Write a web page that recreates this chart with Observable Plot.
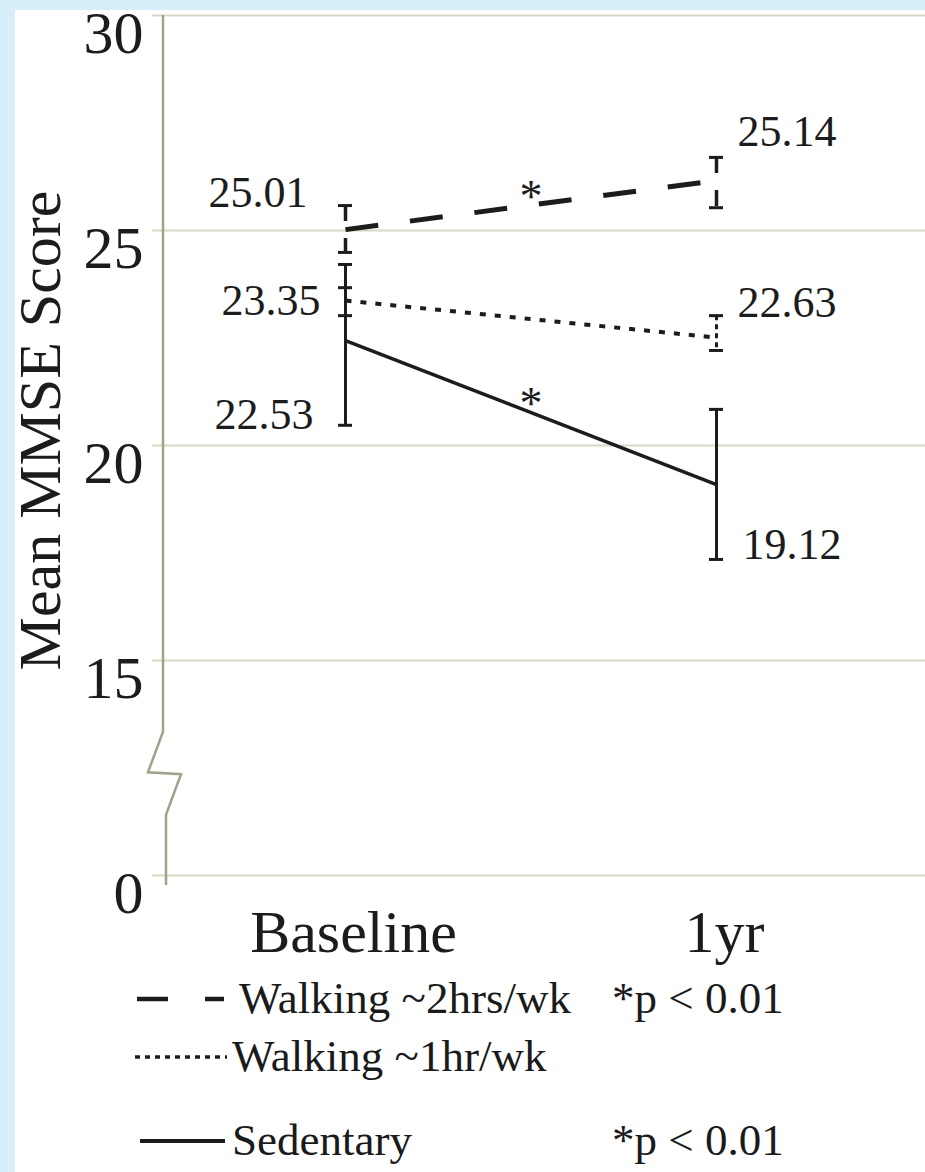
<!DOCTYPE html>
<html><head><meta charset="utf-8">
<script src="https://cdn.jsdelivr.net/npm/d3@7"></script>
<script src="https://cdn.jsdelivr.net/npm/@observablehq/plot@0.6"></script>
<style>
html,body{margin:0;padding:0;}
body{background:#d6effb;width:925px;height:1172px;overflow:hidden;position:relative;}
#panel{position:absolute;left:15px;top:10px;width:910px;height:1162px;background:#fff;font-family:"Liberation Serif",serif;color:#1a1a1a;overflow:hidden;}
#chart{position:absolute;left:0;top:0;z-index:2;}
.row{position:absolute;left:0;height:50px;line-height:50px;font-size:45px;white-space:nowrap;}
.row svg{position:absolute;top:0;}
.row .lab{position:absolute;top:0;}
.row .sig{position:absolute;top:0;left:597px;}
</style></head><body><div id="panel"><div id="legend"></div></div><div id="chart"></div>
<script>
// ---- data ----
const timepoints = ["Baseline", "1yr"];
const groups = ["Walking ~2hrs/wk", "Walking ~1hr/wk", "Sedentary"];
const significance = ["*p < 0.01", "", "*p < 0.01"];
const walk2Mean = [25.02, 26.16];
const walk2Low = [24.49, 25.53];
const walk2High = [25.58, 26.70];
const walk2Labels = ["25.01", "25.14"];
const walk1Mean = [23.37, 22.51];
const walk1Low = [23.02, 22.21];
const walk1High = [23.67, 23.02];
const walk1Labels = ["23.35", "22.63"];
const sedMean = [22.44, 19.09];
const sedLow = [20.47, 17.35];
const sedHigh = [24.21, 20.84];
const sedLabels = ["22.53", "19.12"];
const yTicks = [0, 15, 20, 25, 30];
const yTitle = "Mean MMSE Score";

// ---- styling / layout ----
const ink = "#1c1c1c";
const gridColor = "#dad8c5";
const axisColor = "#a3a18b";
const lineStyle = [
  {dash: "33,32", width: 5, errDash: "16,17", errWidth: 3.5, legendDash: "31,37,19,999", legendWidth: 4.5, lx1: 2, lx2: 90},
  {dash: "6,9", width: 4, errDash: "5,4", errWidth: 3, legendDash: "5,5", legendWidth: 3.5, lx1: 0, lx2: 92},
  {dash: null, width: 3.5, errDash: null, errWidth: 3, legendDash: null, legendWidth: 4, lx1: 5, lx2: 90}
];
const labelPlacement = [
  [{at: "high", dx: -38, dy: -13}, {at: "high", dx: 21, dy: -25}],
  [{at: "mean", dx: -25, dy: 0}, {at: "high", dx: 21, dy: -13}],
  [{at: "low", dx: -32, dy: -10}, {at: "low", dx: 26, dy: -15}]
];
const legendRows = [{top: 963, textX: 224}, {top: 1021, textX: 217}, {top: 1105, textX: 217}];

const series = [
  {group: groups[0], mean: walk2Mean, low: walk2Low, high: walk2High, labels: walk2Labels, sig: significance[0]},
  {group: groups[1], mean: walk1Mean, low: walk1Low, high: walk1High, labels: walk1Labels, sig: significance[1]},
  {group: groups[2], mean: sedMean, low: sedLow, high: sedHigh, labels: sedLabels, sig: significance[2]}
];
const rows = series.map(s => timepoints.map((t, i) => ({
  group: s.group, t: i, mean: s.mean[i], low: s.low[i], high: s.high[i], label: s.labels[i]
})));

const W = 925, H = 980, mL = 163, mR = 0, mT = 15, mB = 105;
const step = (H - mT - mB) / (yTicks.length - 1);
const yRange = yTicks.map((_, i) => H - mB - i * step);

function dashOpt(d) { return d ? {strokeDasharray: d} : {}; }

const marks = [];
// gridlines with small outward tick
marks.push(Plot.ruleY(yTicks, {y: d => d, stroke: gridColor, strokeWidth: 2, insetLeft: -11}));
// y axis line with break symbol
marks.push((index, scales, values, dims) => {
  const x0 = dims.marginLeft;
  const y = scales.y;
  const yb1 = y(10), yb2 = y(4.2), ym = (yb1 + yb2) / 2;
  const p = d3.path();
  p.moveTo(x0, y(30));
  p.lineTo(x0, yb1);
  p.lineTo(x0 - 15, ym - 1);
  p.lineTo(x0 + 18, ym + 1);
  p.lineTo(x0 + 3, yb2);
  p.lineTo(x0 + 3, y(0) + 10);
  return d3.create("svg:path").attr("d", p.toString()).attr("fill", "none")
    .attr("stroke", axisColor).attr("stroke-width", 2.5).node();
});

series.forEach((s, si) => {
  const st = lineStyle[si];
  const data = rows[si];
  marks.push(Plot.ruleX(data, {x: "t", y1: "high", y2: "low", stroke: ink, strokeWidth: st.errWidth, strokeLinecap: "butt", ...dashOpt(st.errDash)}));
  marks.push(Plot.ruleY(data, {x1: "t", x2: "t", y: "high", stroke: ink, strokeWidth: 3, insetLeft: -7, insetRight: -7}));
  marks.push(Plot.ruleY(data, {x1: "t", x2: "t", y: "low", stroke: ink, strokeWidth: 3, insetLeft: -7, insetRight: -7}));
  marks.push(Plot.line(data, {x: "t", y: "mean", stroke: ink, strokeWidth: st.width, strokeLinecap: "butt", ...dashOpt(st.dash)}));
  data.forEach((d, i) => {
    const pl = labelPlacement[si][i];
    marks.push(Plot.text([d], {x: "t", y: pl.at, text: "label", fontSize: 44, fontFamily: "Liberation Serif",
      fill: ink, textAnchor: i === 0 ? "end" : "start", dx: pl.dx, dy: pl.dy}));
  });
  if (s.sig) {
    const mid = [{t: 0.5, y: (s.mean[0] + s.mean[1]) / 2}];
    marks.push(Plot.text(mid, {x: "t", y: "y", text: () => "*", fontSize: 46, fontFamily: "Liberation Serif", fill: ink, dy: -8}));
  }
});

// y tick labels
marks.push(Plot.text(yTicks, {y: d => d, text: d => String(d), frameAnchor: "left", textAnchor: "end",
  dx: -20, dy: 18, fontSize: 60, fontFamily: "Liberation Serif", fill: ink}));
// x tick labels
marks.push(Plot.text(timepoints, {x: (d, i) => i, text: d => d, frameAnchor: "bottom", lineAnchor: "top",
  dy: 34, dx: 8, fontSize: 60, fontFamily: "Liberation Serif", fill: ink}));
// y title
marks.push(Plot.text([yTitle], {text: d => d, frameAnchor: "left", textAnchor: "middle", rotate: -90, dx: -123, dy: -15,
  fontSize: 60, fontFamily: "Liberation Serif", fill: ink}));

const chart = Plot.plot({
  width: W, height: H,
  marginLeft: mL, marginRight: mR, marginTop: mT, marginBottom: mB,
  x: {type: "linear", domain: [0, 1], insetLeft: 182, insetRight: 209, axis: null},
  y: {type: "linear", domain: yTicks, range: yRange, axis: null},
  style: {background: "transparent", color: ink, fontFamily: "Liberation Serif"},
  marks
});
document.getElementById("chart").appendChild(chart);

// legend
const legend = document.getElementById("legend");
groups.forEach((g, i) => {
  const st = lineStyle[i];
  const pos = legendRows[i];
  const row = document.createElement("div");
  row.className = "row";
  row.style.top = pos.top + "px";
  row.style.width = "910px";
  const sw = d3.create("svg").attr("width", 100).attr("height", 50).style("left", "120px");
  sw.append("line").attr("x1", st.lx1).attr("x2", st.lx2).attr("y1", 26).attr("y2", 26)
    .attr("stroke", ink).attr("stroke-width", st.legendWidth)
    .attr("stroke-dasharray", st.legendDash || null);
  row.appendChild(sw.node());
  const lab = document.createElement("span");
  lab.className = "lab"; lab.style.left = pos.textX + "px"; lab.textContent = g;
  row.appendChild(lab);
  if (significance[i]) {
    const sig = document.createElement("span");
    sig.className = "sig"; sig.textContent = significance[i];
    row.appendChild(sig);
  }
  legend.appendChild(row);
});
</script></body></html>
